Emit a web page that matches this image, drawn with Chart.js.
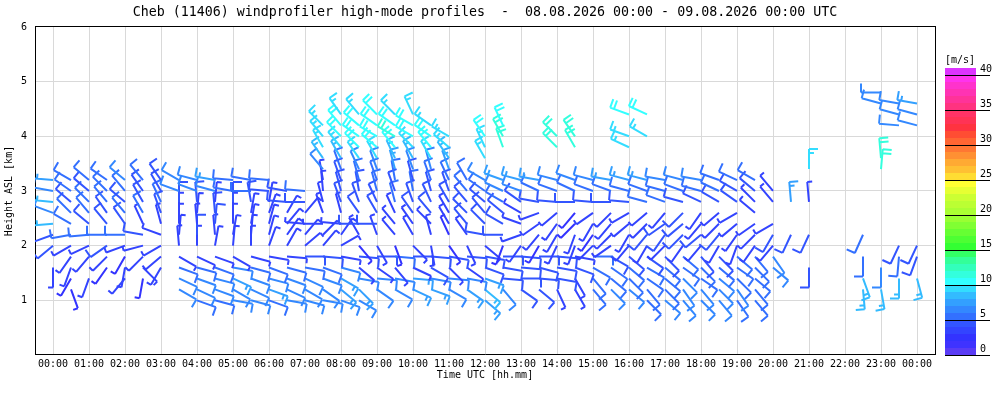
<!DOCTYPE html>
<html>
<head>
<meta charset="utf-8">
<script src="https://cdn.jsdelivr.net/npm/chart.js@4/dist/chart.umd.min.js"></script>
<style>
html,body{margin:0;padding:0;background:#fff;}
#c{display:block;}
</style>
</head>
<body>
<canvas id="c" width="1000" height="400"></canvas>
<script>
const _ = null;
// profile times [h UTC]
const times = [0,0.5,1,1.5,2,2.5,3,3.5,4,4.5, 5,5.5,6,6.5,7,7.5,8,8.5,9,9.5, 10,10.5,11,11.5,12,12.5,13,13.5,14,14.5, 15,15.5,16,16.5,17,17.5,18,18.5,19,19.5, 20,20.5,21,21.5,22,22.5,23,23.5,24];
// gate heights [km ASL]
const levels = [1.0,1.2,1.4,1.6,1.8,2.0,2.2,2.4,2.6,2.8,3.0,3.2,3.4,3.6,3.8,4.0,4.2,4.4,4.6,4.8];
const hourTicks = [0,1,2,3,4,5,6,7,8,9,10,11,12,13,14,15,16,17,18,19,20,21,22,23,24];
const hourLabels = ['00:00','01:00','02:00','03:00','04:00','05:00','06:00','07:00','08:00','09:00','10:00','11:00','12:00','13:00','14:00','15:00','16:00','17:00','18:00','19:00','20:00','21:00','22:00','23:00','00:00'];
const heightTicks = [0,1,2,3,4,5,6];
const speedTicks = [0,5,10,15,20,25,30,35,40];

// wind direction [deg] and speed [m/s] per level, one entry per profile time
const d100 = [_,_,_,_,_,_,_,_,110,105, 100,105,110,100,105,100,110,120,_,_, _,_,_,_,130,_,_,_,_,_, _,_,_,135,130,140,135,140,145,140, _,_,_,_,_,_,_,_,_];
const s100 = [_,_,_,_,_,_,_,_,5,5, 6,6,5,6,6,6,6,6,_,_, _,_,_,_,7,_,_,_,_,_, _,_,_,5,6,6,6,6,5,5, _,_,_,_,_,_,_,_,_];
const d120 = [_,160,_,_,_,_,_,120,115,110, 120,115,110,115,120,125,130,135,125,120, 115,110,120,125,130,140,125,130,155,150, 140,135,130,140,135,145,140,135,145,140, _,_,_,_,_,175,170,_,_];
const s120 = [_,2,_,_,_,_,_,6,6,6, 6,6,7,6,6,6,7,7,6,6, 7,7,6,7,8,6,4,4,3,3, 5,6,6,5,5,6,6,6,6,5, _,_,_,_,_,8,8,_,_];
const d140 = [_,210,200,_,220,190,_,115,110,105, 115,110,105,110,115,110,120,100,95,100, 95,100,95,100,110,95,90,95,100,150, 140,130,135,125,130,135,125,130,135,130, _,_,_,_,_,160,_,180,165];
const s140 = [_,2,3,_,3,2,_,6,6,6, 7,6,6,6,6,6,7,6,6,6, 7,6,6,6,7,4,4,4,4,3, 5,5,5,5,5,6,5,6,5,5, _,_,_,_,_,8,_,8,8];
const d160 = [180,200,_,215,190,135,210,110,105,110, 100,105,110,105,100,110,105,130,125,140, 115,120,135,125,110,100,95,105,100,110, 120,125,130,120,130,125,135,130,125,135, 130,_,180,_,_,_,180,_,_];
const s160 = [3,3,_,2,3,3,3,5,5,5, 6,5,5,5,5,5,6,3,3,3, 3,4,3,3,4,4,4,4,4,4, 5,5,5,5,5,5,5,5,5,5, 6,_,4,_,_,_,6,_,_];
const d180 = [_,215,220,225,210,225,230,120,115,110, 120,105,100,95,90,95,100,95,90,95, 90,95,100,95,100,90,95,90,95,100, 90,120,130,125,135,130,140,135,130,140, 145,_,_,_,_,180,_,185,200];
const s180 = [_,3,3,3,2,3,3,3,3,3, 3,3,3,3,4,4,3,4,4,5, 4,4,4,4,4,4,4,4,4,3, 5,4,4,4,4,5,4,4,5,5, 6,_,_,_,_,5,_,5,4];
const d200 = [230,240,245,235,250,255,240,355,0,10, 5,0,20,30,50,40,60,140,150,160, 135,170,145,155,130,200,215,210,205,200, 225,235,220,210,225,215,220,210,200,215, 220,_,_,_,_,_,_,205,205];
const s200 = [4,3,3,4,3,3,3,3,3,3, 3,3,3,3,3,3,3,2,3,2, 3,3,2,3,3,2,3,2,3,3, 3,3,3,3,3,3,3,3,3,3, 3,_,_,_,_,_,_,4,4];
const d220 = [250,260,265,270,270,280,290,5,0,355, 10,5,15,35,40,45,35,330,340,320, 330,345,335,325,280,270,250,220,210,200, 215,225,210,220,215,225,230,220,215,225, 210,205,205,_,_,204,_,_,_];
const s220 = [4,5,5,5,5,4,3,3,4,3, 3,3,3,3,3,3,3,3,3,3, 3,3,2,3,4,4,3,3,3,3, 2,3,3,4,4,4,4,4,3,3, 4,4,4,_,_,5,_,_,_];
const d240 = [265,300,310,320,325,335,345,0,355,5, 0,10,15,40,275,270,275,270,270,320, 325,315,330,320,315,300,290,235,215,225, 210,220,230,225,235,230,220,225,230,235, 240,_,_,_,_,_,_,_,_];
const s240 = [8,5,4,4,4,3,3,3,3,4, 3,3,3,3,3,3,3,4,4,3, 3,3,3,4,4,4,3,3,3,2, 3,3,3,3,4,4,3,3,3,3, 3,_,_,_,_,_,_,_,_];
const d260 = [290,315,320,325,320,330,340,0,5,355, 0,10,20,30,40,340,345,325,330,335, 325,320,330,315,320,310,300,250,230,220, 235,225,240,230,220,225,215,230,240,310, _,_,_,_,_,_,_,_,_];
const s260 = [6,5,5,4,5,5,4,3,3,4, 3,3,3,3,3,3,3,4,4,3, 4,4,3,4,4,4,3,3,3,2, 3,3,3,3,3,4,3,3,3,3, _,_,_,_,_,_,_,_,_];
const d280 = [275,310,315,320,310,330,335,0,355,5, 0,350,10,275,270,345,340,340,335,345, 340,335,330,320,310,300,305,280,275,270, 275,270,275,285,290,285,295,300,305,315, 320,355,355,_,_,_,_,_,_];
const s280 = [8,4,5,5,4,4,5,4,4,3, 4,4,3,4,4,3,4,4,4,5, 4,4,4,4,4,5,4,4,4,4, 4,4,4,5,5,4,4,4,4,3, 3,7,3,_,_,_,_,_,_];
const d300 = [280,305,310,315,320,325,330,290,290,285, 280,270,275,280,275,355,345,350,345,340, 350,345,340,320,305,295,290,295,290,295, 290,290,285,290,285,290,285,295,300,310, 320,_,_,_,_,_,_,_,_];
const s300 = [6,5,4,5,5,4,4,6,6,6, 5,5,4,4,5,3,4,4,5,4, 5,4,4,5,5,6,6,5,5,5, 5,5,5,5,5,5,5,5,4,4, 3,_,_,_,_,_,_,_,_];
const d320 = [275,300,310,305,310,320,325,300,285,280, 275,280,275,_,_,350,340,345,340,350, 345,340,335,330,300,290,285,280,285,290, 285,280,285,285,280,285,280,290,295,300, _,_,_,_,_,_,_,_,_];
const s320 = [7,5,5,5,6,5,4,6,6,7, 5,5,5,_,_,3,4,5,5,5, 4,5,5,5,6,7,7,7,6,6, 6,7,7,7,6,6,6,5,5,5, _,_,_,_,_,_,_,_,_];
const d340 = [_,_,_,_,_,_,_,_,_,_, _,_,_,_,_,320,340,335,340,345, 340,345,340,_,_,_,_,_,_,_, _,_,_,_,_,_,_,_,_,_, _,_,0,_,_,_,5,_,_];
const s340 = [_,_,_,_,_,_,_,_,_,_, _,_,_,_,_,6,5,6,6,7, 6,6,7,_,_,_,_,_,_,_, _,_,_,_,_,_,_,_,_,_, _,_,9,_,_,_,11,_,_];
const d360 = [_,_,_,_,_,_,_,_,_,_, _,_,_,_,_,325,330,325,330,335, 330,330,325,_,330,_,_,_,_,_, _,_,_,_,_,_,_,_,_,_, _,_,_,_,_,_,355,_,_];
const s360 = [_,_,_,_,_,_,_,_,_,_, _,_,_,_,_,8,8,9,9,8, 8,9,8,_,9,_,_,_,_,_, _,_,_,_,_,_,_,_,_,_, _,_,_,_,_,_,11,_,_];
const d380 = [_,_,_,_,_,_,_,_,_,_, _,_,_,_,_,330,320,315,310,320, 315,320,310,_,335,340,_,_,315,330, _,_,295,_,_,_,_,_,_,_, _,_,_,_,_,_,_,_,_];
const s380 = [_,_,_,_,_,_,_,_,_,_, _,_,_,_,_,9,9,10,10,10, 9,10,9,_,9,11,_,_,11,11, _,_,9,_,_,_,_,_,_,_, _,_,_,_,_,_,_,_,_];
const d400 = [_,_,_,_,_,_,_,_,_,_, _,_,_,_,_,320,315,305,300,300, 300,305,300,_,325,330,_,_,315,325, _,_,290,300,_,_,_,_,_,_, _,_,_,_,_,_,_,_,_];
const s400 = [_,_,_,_,_,_,_,_,_,_, _,_,_,_,_,9,10,10,10,11, 10,10,9,_,10,11,_,_,11,11, _,_,9,9,_,_,_,_,_,_, _,_,_,_,_,_,_,_,_];
const d420 = [_,_,_,_,_,_,_,_,_,_, _,_,_,_,_,315,320,310,305,305, 300,305,_,_,_,335,_,_,_,_, _,_,_,_,_,_,_,_,_,_, _,_,_,_,_,_,_,275,285];
const s420 = [_,_,_,_,_,_,_,_,_,_, _,_,_,_,_,9,10,10,10,10, 10,9,_,_,_,10,_,_,_,_, _,_,_,_,_,_,_,_,_,_, _,_,_,_,_,_,_,6,6];
const d440 = [_,_,_,_,_,_,_,_,_,_, _,_,_,_,_,_,325,320,315,315, 335,_,_,_,_,_,_,_,_,_, _,_,290,295,_,_,_,_,_,_, _,_,_,_,_,_,_,285,285];
const s440 = [_,_,_,_,_,_,_,_,_,_, _,_,_,_,_,_,9,9,10,9, 9,_,_,_,_,_,_,_,_,_, _,_,10,10,_,_,_,_,_,_, _,_,_,_,_,_,_,6,6];
const d460 = [_,_,_,_,_,_,_,_,_,_, _,_,_,_,_,_,_,_,_,_, _,_,_,_,_,_,_,_,_,_, _,_,_,_,_,_,_,_,_,_, _,_,_,_,_,_,285,280,280];
const s460 = [_,_,_,_,_,_,_,_,_,_, _,_,_,_,_,_,_,_,_,_, _,_,_,_,_,_,_,_,_,_, _,_,_,_,_,_,_,_,_,_, _,_,_,_,_,_,6,6,7];
const d480 = [_,_,_,_,_,_,_,_,_,_, _,_,_,_,_,_,_,_,_,_, _,_,_,_,_,_,_,_,_,_, _,_,_,_,_,_,_,_,_,_, _,_,_,_,_,_,270,_,_];
const s480 = [_,_,_,_,_,_,_,_,_,_, _,_,_,_,_,_,_,_,_,_, _,_,_,_,_,_,_,_,_,_, _,_,_,_,_,_,_,_,_,_, _,_,_,_,_,_,6,_,_];

const dirRows = [d100,d120,d140,d160,d180,d200,d220,d240,d260,d280,d300,d320,d340,d360,d380,d400,d420,d440,d460,d480];
const spdRows = [s100,s120,s140,s160,s180,s200,s220,s240,s260,s280,s300,s320,s340,s360,s380,s400,s420,s440,s460,s480];

// colour scale of the speed legend, one colour per 1 m/s band (0..41)
const bandColors = ['#5a3cf5','#3f33ff','#3333ff','#3344ff','#3355ff','#3370ff','#3388ff','#33a0ff','#33bbff','#33ddff',
  '#33ffff','#33ffdd','#33ffbb','#33ff99','#33ff66','#33ff33','#4dff33','#66ff33','#80ff33','#99ff33',
  '#aaff33','#bbff33','#ccff33','#e6ff33','#ffff33','#ffdd33','#ffc033','#ffaa33','#ff9033','#ff7733',
  '#ff6633','#ff4d33','#ff3340','#ff3355','#ff3366','#ff3380','#ff3399','#ff33b3','#ff33cc','#ff33ee','#dd33ff'];

// build the point table from the arrays above
const points = [];
levels.forEach((h, li) => {
  times.forEach((t, ti) => {
    const d = dirRows[li][ti], s = spdRows[li][ti];
    if (d !== null && s !== null) points.push({x: t, y: h, dir: d, spd: s});
  });
});

function colorFor(s) {
  const k = Math.max(0, Math.min(bandColors.length - 1, Math.floor(s)));
  return bandColors[k];
}

function drawBarb(ctx, x, y, dir, spd) {
  const r = dir * Math.PI / 180;
  const ux = Math.sin(r), uy = -Math.cos(r);
  const px = -uy, py = ux;
  const L = 20, B = 9, G = 4;
  const kt = Math.round(spd * 1.943844 / 5) * 5;
  const tx = x + ux * L, ty = y + uy * L;
  ctx.strokeStyle = colorFor(spd);
  ctx.beginPath();
  ctx.moveTo(x, y);
  ctx.lineTo(tx, ty);
  let rem = kt, pos = 0;
  while (rem >= 10) {
    const bx = tx - ux * pos, by = ty - uy * pos;
    ctx.moveTo(bx, by);
    ctx.lineTo(bx + px * B, by + py * B);
    pos += G; rem -= 10;
  }
  if (rem >= 5) {
    const bx = tx - ux * pos, by = ty - uy * pos;
    ctx.moveTo(bx, by);
    ctx.lineTo(bx + px * B * 0.55, by + py * B * 0.55);
  }
  ctx.stroke();
}

const barbPlugin = {
  id: 'barbs',
  afterDatasetsDraw(chart) {
    const ctx = chart.ctx, ca = chart.chartArea;
    const meta = chart.getDatasetMeta(0);
    ctx.save();
    ctx.beginPath();
    ctx.rect(ca.left, ca.top, ca.right - ca.left, ca.bottom - ca.top);
    ctx.clip();
    ctx.lineWidth = 2;
    ctx.lineCap = 'butt';
    meta.data.forEach((el, k) => {
      const p = points[k];
      drawBarb(ctx, el.x, el.y, p.dir, p.spd);
    });
    ctx.restore();
  }
};

const framePlugin = {
  id: 'frame',
  afterDraw(chart) {
    const ctx = chart.ctx, ca = chart.chartArea;
    ctx.save();
    ctx.fillStyle = '#000';
    ctx.fillRect(Math.round(ca.left), Math.round(ca.top) - 1, Math.round(ca.right - ca.left) + 1, 1);
    ctx.fillRect(Math.round(ca.right), Math.round(ca.top) - 1, 1, Math.round(ca.bottom - ca.top) + 1);
    // colour legend
    const x0 = Math.round(ca.right) + 10, w = 31, unit = 7, yb = Math.round(ca.bottom);
    bandColors.forEach((c, k) => {
      ctx.fillStyle = c;
      ctx.fillRect(x0, yb - (k + 1) * unit, w, unit);
    });
    ctx.fillStyle = '#000';
    ctx.font = '10px "DejaVu Sans Mono"';
    ctx.textAlign = 'left';
    ctx.textBaseline = 'bottom';
    speedTicks.forEach(v => {
      const yy = yb - v * unit;
      ctx.fillRect(x0, yy, 45, 1);
      ctx.fillText(String(v), x0 + 35, yy - 1);
    });
    ctx.textAlign = 'center';
    ctx.textBaseline = 'middle';
    ctx.fillText('[m/s]', x0 + 15, yb - 41 * unit - 8);
    ctx.restore();
  }
};

Chart.defaults.font.family = '"DejaVu Sans Mono", monospace';
Chart.defaults.font.size = 10;
Chart.defaults.color = '#000';

new Chart(document.getElementById('c'), {
  type: 'scatter',
  data: {
    datasets: [{
      data: points.map(p => ({x: p.x, y: p.y})),
      pointRadius: 0,
      pointHoverRadius: 0,
      showLine: false
    }]
  },
  options: {
    responsive: false,
    animation: false,
    events: [],
    layout: {padding: {left: 0, right: 65, top: 0, bottom: 0}},
    plugins: {
      legend: {display: false},
      tooltip: {enabled: false},
      title: {
        display: true,
        fullSize: false,
        text: 'Cheb (11406) windprofiler high-mode profiles  -  08.08.2026 00:00 - 09.08.2026 00:00 UTC',
        color: '#000',
        font: {size: 13.3, weight: 'normal', family: '"DejaVu Sans Mono", monospace'},
        padding: {top: 5, bottom: 6}
      }
    },
    scales: {
      x: {
        type: 'linear',
        min: -0.5,
        max: 24.5,
        afterBuildTicks: s => { s.ticks = hourTicks.map(v => ({value: v})); },
        afterFit: s => { s.height = 45; s.paddingLeft = 0; s.paddingRight = 0; },
        ticks: {
          autoSkip: false,
          maxRotation: 0,
          padding: 3,
          font: {size: 10},
          callback: v => hourLabels[hourTicks.indexOf(v)] ?? ''
        },
        grid: {color: '#d9d9d9', lineWidth: 1, drawTicks: false},
        border: {display: true, color: '#000', width: 1},
        title: {display: true, text: 'Time UTC [hh.mm]', font: {size: 10}, padding: {top: 19, bottom: 19}}
      },
      y: {
        type: 'linear',
        min: 0,
        max: 6,
        afterBuildTicks: s => { s.ticks = heightTicks.map(v => ({value: v})); },
        afterFit: s => { s.width = 35; s.paddingTop = 0; s.paddingBottom = 0; },
        ticks: {
          padding: 8,
          font: {size: 10},
          callback: v => (v === 0 ? '' : String(v))
        },
        grid: {color: '#d9d9d9', lineWidth: 1, drawTicks: false},
        border: {display: true, color: '#000', width: 1},
        title: {display: true, text: 'Height ASL [km]', font: {size: 10}, padding: {top: 3, bottom: 3}}
      }
    }
  },
  plugins: [barbPlugin, framePlugin]
});
</script>
</body>
</html>
